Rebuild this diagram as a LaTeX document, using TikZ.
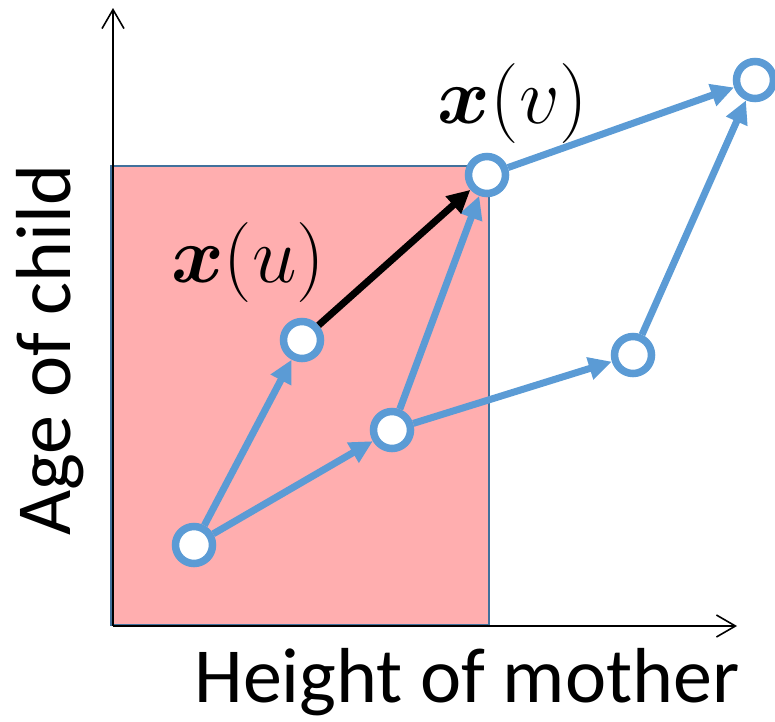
\RequirePackage{fix-cm}
\documentclass[tikz,border=0pt]{standalone}
\usepackage{amsmath,bm}
\usepackage{fontspec}
\setmainfont{Carlito}
\usepackage{tikz}
\usetikzlibrary{arrows.meta}

\definecolor{ptblue}{RGB}{91,155,213}
\definecolor{ptpink}{RGB}{255,174,175}
\definecolor{ptedge}{RGB}{65,113,156}

\begin{document}
\begin{tikzpicture}[
  x=1pt, y=-1pt,
  dot/.style={circle, draw=ptblue, fill=white, line width=7.5pt, minimum size=37pt, inner sep=0pt},
  link/.style={-{Triangle[length=23pt, width=22pt]}, line width=7pt, draw=#1},
  link/.default=ptblue,
  axis/.style={-{Straight Barb[length=19pt, width=22pt]}, line width=1.6pt},
  word/.style={font=\fontsize{78}{94}\selectfont},
  mlabel/.style={font=\fontsize{80}{96}\selectfont},
]
\useasboundingbox (0,0) rectangle (775,721);

%% ---- Region and axes ----
\fill[ptpink, draw=ptedge, line width=2pt] (111,166) rectangle (489,625);
\coordinate (O) at (113,626);
\coordinate (ytop) at (113,8);
\coordinate (xend) at (737,626);
\draw[axis] (O) -- (ytop);
\draw[axis] (O) -- (xend);

\node[word, rotate=90] (ylab) at (50,350) {Age of child};
\node[word] (xlab) at (467,682) {Height of mother};

%% ---- Points ----
\node[dot] (a) at (194,545) {};
\node[dot] (u) at (302,340) {};
\node[dot] (c) at (392,430) {};
\node[dot] (v) at (487,175) {};
\node[dot] (e) at (633,355) {};
\node[dot] (f) at (755,80)  {};

%% ---- Edges ----
\draw[link] (a) -- (u);
\draw[link] (a) -- (c);
\draw[link] (c) -- (v);
\draw[link] (c) -- (e);
\draw[link] (v) -- (f);
\draw[link] (e) -- (f);
\draw[link=black] (u) -- (v);

%% ---- Labels ----
\node[mlabel] (ulab) at (248,262) {$\bm{x}(u)$};
\node[mlabel] (vlab) at (513,103) {$\bm{x}(v)$};

\end{tikzpicture}
\end{document}
